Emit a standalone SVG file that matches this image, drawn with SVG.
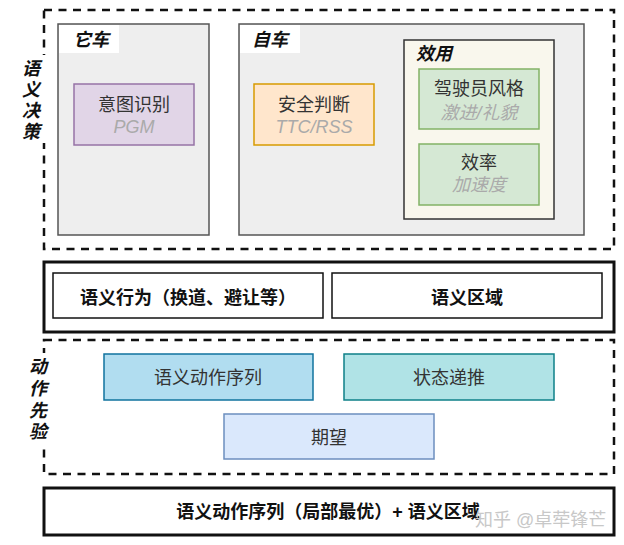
<svg xmlns="http://www.w3.org/2000/svg" width="624" height="545" viewBox="0 0 624 545">
<style>
text{font-family:"Liberation Sans","Noto Sans CJK SC",sans-serif;}
.dash{fill:#fff;stroke:#111;stroke-width:2.5;stroke-dasharray:8 6.5;}
.solid{fill:#fff;stroke:#111;stroke-width:3;}
.panel{fill:#eeeeee;stroke:#555;stroke-width:1.5;}
.tag{fill:#fff;stroke:none;}
.title{font-size:18px;font-weight:bold;font-style:italic;fill:#111;}
.vlabel{font-size:18px;font-weight:bold;font-style:italic;fill:#111;text-anchor:middle;}
.main{font-size:18px;fill:#333;text-anchor:middle;}
.sub{font-size:18px;font-style:italic;fill:#aaa;text-anchor:middle;}
.bold{font-size:18px;font-weight:bold;fill:#111;text-anchor:middle;}
.inner{fill:#fff;stroke:#111;stroke-width:1.5;}
</style>
<g id="connectors"></g>

<g id="semantic-decision">
<rect class="dash" x="44" y="10" width="570" height="239"/>
<rect x="20" y="55" width="28" height="88" fill="#fff"/>
<text class="vlabel" x="31" y="75">语</text>
<text class="vlabel" x="31" y="96">义</text>
<text class="vlabel" x="31" y="117">决</text>
<text class="vlabel" x="31" y="138">策</text>
</g>

<g id="other-car">
<rect class="panel" x="58" y="24" width="151" height="211"/>
<rect class="tag" x="59" y="25" width="60" height="28"/>
<text class="title" x="73" y="46">它车</text>
</g>

<g id="intent">
<rect x="74" y="84" width="120" height="61" fill="#e1d5e7" stroke="#9673a6" stroke-width="1.5"/>
<text class="main" x="134" y="111">意图识别</text>
<text class="sub" x="134" y="133">PGM</text>
</g>

<g id="ego-car">
<rect class="panel" x="239" y="24" width="345" height="211"/>
<rect class="tag" x="240" y="25" width="60" height="28"/>
<text class="title" x="252" y="46">自车</text>
</g>

<g id="safety">
<rect x="254" y="84" width="120" height="61" fill="#ffe6cc" stroke="#d79b00" stroke-width="1.5"/>
<text class="main" x="314" y="111">安全判断</text>
<text class="sub" x="314" y="133">TTC/RSS</text>
</g>

<g id="utility">
<rect x="404" y="40" width="150" height="179" fill="#f9f7ed" stroke="#333" stroke-width="1.5"/>
<text class="title" x="416" y="60">效用</text>
</g>

<g id="driver-style">
<rect x="419" y="69" width="120" height="60" fill="#d5e8d4" stroke="#82b366" stroke-width="1.5"/>
<text class="main" x="479" y="95">驾驶员风格</text>
<text class="sub" x="479" y="119">激进/礼貌</text>
</g>

<g id="efficiency">
<rect x="419" y="144" width="120" height="61" fill="#d5e8d4" stroke="#82b366" stroke-width="1.5"/>
<text class="main" x="479" y="169">效率</text>
<text class="sub" x="479" y="191">加速度</text>
</g>

<g id="semantic-output">
<rect class="solid" x="44" y="262" width="570" height="70"/>
</g>

<g id="semantic-behavior">
<rect class="inner" x="53" y="273" width="270" height="45"/>
<text class="bold" x="188" y="304">语义行为（换道、避让等）</text>
</g>

<g id="semantic-region">
<rect class="inner" x="332" y="273" width="270" height="45"/>
<text class="bold" x="467" y="304">语义区域</text>
</g>

<g id="action-prior">
<rect class="dash" x="44" y="340" width="570" height="134"/>
<rect x="26" y="353" width="26" height="92" fill="#fff"/>
<text class="vlabel" x="38" y="373">动</text>
<text class="vlabel" x="38" y="395">作</text>
<text class="vlabel" x="38" y="417">先</text>
<text class="vlabel" x="38" y="438">验</text>
</g>

<g id="action-seq">
<rect x="104" y="354" width="209" height="46" fill="#b1ddf0" stroke="#10739e" stroke-width="1.5"/>
<text class="main" x="208" y="384">语义动作序列</text>
</g>

<g id="state-prop">
<rect x="344" y="354" width="210" height="46" fill="#b0e3e6" stroke="#0e8088" stroke-width="1.5"/>
<text class="main" x="449" y="384">状态递推</text>
</g>

<g id="expectation">
<rect x="224" y="414" width="210" height="45" fill="#dae8fc" stroke="#6c8ebf" stroke-width="1.5"/>
<text class="main" x="329" y="444">期望</text>
</g>

<g id="final-output">
<rect class="solid" x="44" y="488" width="570" height="47"/>
<text class="bold" x="328" y="518">语义动作序列（局部最优）+ 语义区域</text>
</g>

<text x="475" y="526" font-size="18" fill="#c8c8c8">知乎 @卓荦锋芒</text>
</svg>
